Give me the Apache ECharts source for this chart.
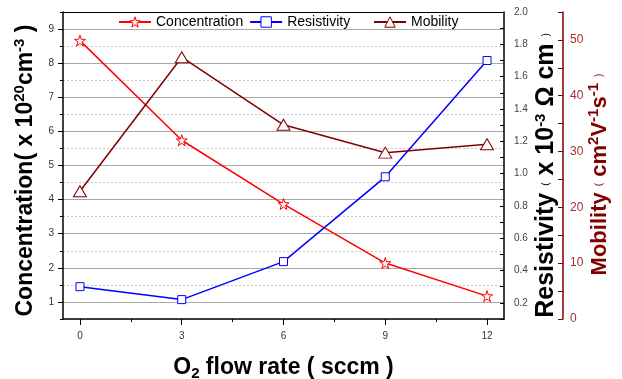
<!DOCTYPE html>
<html>
<head>
<meta charset="utf-8">
<script src="https://cdn.jsdelivr.net/npm/echarts@6/dist/echarts.min.js"></script>
<style>
  html, body { margin: 0; padding: 0; background: #fff; }
  #main { width: 622px; height: 379px; }
</style>
</head>
<body>
<div id="main"></div>
<script>
var flowRate = [0, 3, 6, 9, 12];
var concentration = [8.66, 5.74, 3.87, 2.14, 1.17];
var resistivity = [0.30, 0.22, 0.455, 0.98, 1.70];
var mobility = [22.9, 46.9, 34.8, 29.8, 31.3];

var xTicks = [0, 3, 6, 9, 12];
var xMinorTicks = [1.5, 4.5, 7.5, 10.5];
var concTicks = [1, 2, 3, 4, 5, 6, 7, 8, 9];
var resTicks = [0.2, 0.4, 0.6, 0.8, 1.0, 1.2, 1.4, 1.6, 1.8, 2.0];
var mobTicks = [0, 10, 20, 30, 40, 50];

var starPath = 'path://M50,2 L61,36 L97,36 L68,57 L79,92 L50,71 L21,92 L32,57 L3,36 L39,36 Z';
var darkRed = '#800000';
var font = 'Liberation Sans, Arial, sans-serif';

function pairs(ys) {
    var out = [];
    for (var i = 0; i < flowRate.length; i++) {
        out.push([flowRate[i], ys[i]]);
    }
    return out;
}

// rich styles for the axis titles; e is blank space used to push the title off-centre
var nameRich = function (color, size, pad) {
    return {
        b: { fontSize: size, fontWeight: 'bold', color: color, fontFamily: font, lineHeight: 27 },
        sup: { fontSize: 15, fontWeight: 'bold', color: color, fontFamily: font, verticalAlign: 'top', lineHeight: 13 },
        sub: { fontSize: 15, fontWeight: 'bold', color: color, fontFamily: font, verticalAlign: 'bottom', lineHeight: 15 },
        p: { fontSize: 10, color: color, fontFamily: font, lineHeight: 27 },
        e: { fontSize: 10, width: pad || 0, lineHeight: 27 }
    };
};

var legendText = { fontSize: 14, color: '#000', fontFamily: font };
var legendItem = { color: '#fff', borderWidth: 1 };

var myChart = echarts.init(document.getElementById('main'));
var option = {
    backgroundColor: '#fff',
    animation: false,
    textStyle: { fontFamily: font },
    grid: { left: 63, right: 118, top: 12, bottom: 60, outerBoundsMode: 'none', containLabel: false },
    legend: [
        {
            left: 113, top: 10, itemWidth: 32, itemHeight: 13, itemGap: 6,
            itemStyle: legendItem,
            textStyle: legendText,
            data: ['Concentration', 'Resistivity']
        },
        {
            left: 368, top: 10, itemWidth: 32, itemHeight: 13,
            itemStyle: legendItem,
            textStyle: legendText,
            data: ['Mobility']
        }
    ],
    xAxis: [
        {
            type: 'value', position: 'bottom', min: -0.5, max: 12.5,
            name: '{b|O}{sub|2}{b| flow rate ( sccm )}',
            nameLocation: 'middle', nameGap: 35,
            nameTextStyle: { rich: nameRich('#000', 23) },
            axisLine: { onZero: false, lineStyle: { color: '#000', width: 1.5 } },
            axisTick: { customValues: xTicks, length: 6, lineStyle: { color: '#000' } },
            axisLabel: { customValues: xTicks, fontSize: 10, color: '#333', margin: 12 },
            splitLine: { show: false }
        },
        {
            type: 'value', position: 'bottom', min: -0.5, max: 12.5,
            axisLine: { show: false, onZero: false },
            axisTick: { customValues: xMinorTicks, length: 3, lineStyle: { color: '#000' } },
            axisLabel: { show: false },
            splitLine: { show: false }
        },
        {
            type: 'value', position: 'top', min: -0.5, max: 12.5,
            axisLine: { onZero: false, lineStyle: { color: '#000', width: 1 } },
            axisTick: { show: false },
            axisLabel: { show: false },
            splitLine: { show: false }
        }
    ],
    yAxis: [
        {
            type: 'value', position: 'left', min: 0.5, max: 9.5,
            name: '{b|Concentration( x 10}{sup|20}{b|cm}{sup|-3}{b| )}{e| }',
            nameLocation: 'middle', nameGap: 21, nameRotate: 90,
            nameTextStyle: { rich: nameRich('#000', 23, 10) },
            axisLine: { onZero: false, lineStyle: { color: '#000', width: 1.5 } },
            axisTick: { customValues: concTicks, length: 5, lineStyle: { color: '#000' } },
            axisLabel: { customValues: concTicks, fontSize: 10, color: '#333', margin: 9 },
            splitLine: { show: true, lineStyle: { color: '#a8a8a8', width: 1 } }
        },
        {
            type: 'value', position: 'right', min: 0.1, max: 2.0, interval: 0.1,
            name: '{b|Resistivity }{p|(}{b| x 10}{sup|-3}{b| \u03A9 cm }{p|)}{e| }',
            nameLocation: 'middle', nameGap: 29, nameRotate: 90, nameMoveOverlap: false,
            nameTextStyle: { rich: nameRich('#000', 25, 20) },
            axisLine: { onZero: false, lineStyle: { color: '#000', width: 1.5 } },
            axisTick: { inside: true, length: 4, lineStyle: { color: '#000' } },
            axisLabel: {
                customValues: resTicks, fontSize: 10, color: '#444', margin: 10,
                formatter: function (v) { return v.toFixed(1); }
            },
            splitLine: { show: false }
        },
        {
            type: 'value', position: 'right', offset: 59, min: 0, max: 55, interval: 5,
            name: '{b|Mobility }{p|(}{b| cm}{sup|2}{b|V}{sup|-1}{b|s}{sup|-1}{b| }{p|)}{e| }',
            nameLocation: 'middle', nameGap: 23, nameRotate: 90, nameMoveOverlap: false,
            nameTextStyle: { rich: nameRich(darkRed, 22, 18) },
            axisLine: { onZero: false, lineStyle: { color: darkRed, width: 1.5 } },
            axisTick: { inside: true, length: 5, lineStyle: { color: darkRed } },
            axisLabel: { customValues: mobTicks, fontSize: 12, color: '#a03030', margin: 7 },
            splitLine: { show: false }
        },
        {
            type: 'value', position: 'left', min: 0.5, max: 9.5, interval: 1,
            axisLine: { show: false, onZero: false },
            axisTick: { length: 3, lineStyle: { color: '#000' } },
            axisLabel: { show: false },
            splitLine: { show: true, lineStyle: { color: '#c8c8c8', type: [2, 2], width: 1 } }
        }
    ],
    series: [
        {
            name: 'Concentration', type: 'line', xAxisIndex: 0, yAxisIndex: 0,
            data: pairs(concentration),
            symbol: starPath, symbolSize: 11,
            lineStyle: { color: '#ff0000', width: 1.5 },
            itemStyle: { color: '#fff', borderColor: '#ff0000', borderWidth: 1 }
        },
        {
            name: 'Resistivity', type: 'line', xAxisIndex: 0, yAxisIndex: 1,
            data: pairs(resistivity),
            symbol: 'rect', symbolSize: 8,
            lineStyle: { color: '#0000ff', width: 1.5 },
            itemStyle: { color: '#fff', borderColor: '#0000ff', borderWidth: 1 }
        },
        {
            name: 'Mobility', type: 'line', xAxisIndex: 0, yAxisIndex: 2,
            data: pairs(mobility),
            symbol: 'triangle', symbolSize: [13, 11],
            lineStyle: { color: darkRed, width: 1.5 },
            itemStyle: { color: '#fff', borderColor: darkRed, borderWidth: 1 }
        }
    ]
};
myChart.setOption(option);
</script>
</body>
</html>
